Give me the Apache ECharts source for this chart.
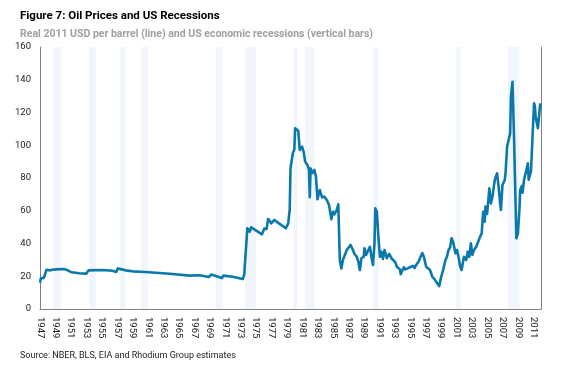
<!DOCTYPE html>
<html><head><meta charset="utf-8">
<script src="https://cdn.jsdelivr.net/npm/echarts@6/dist/echarts.min.js"></script>
<style>html,body{margin:0;padding:0;background:#fff}#c{width:563px;height:367px}</style>
</head><body><div id="c"></div>
<script>
// Oil price, real 2011 USD per barrel (decimal year, value)
var years = [1947.0,1947.1,1947.3,1947.5,1947.7,1947.85,1948.2,1948.6,1949.1,1950.1,1950.6,1951.1,1952.1,1953.0,1953.3,1955.1,1956.4,1956.9,1957.1,1957.6,1958.1,1959.0,1960.6,1962.5,1964.2,1966.4,1967.7,1968.9,1969.2,1969.8,1970.6,1970.8,1972.0,1973.3,1973.5,1973.7,1973.9,1974.2,1974.4,1975.0,1975.8,1976.1,1976.4,1976.6,1977.0,1977.4,1978.0,1978.9,1979.2,1979.4,1979.5,1979.8,1980.0,1980.1,1980.3,1980.5,1980.7,1981.0,1981.2,1981.4,1981.7,1981.9,1982.0,1982.1,1982.3,1982.6,1982.8,1983.0,1983.3,1983.6,1983.9,1984.2,1984.5,1984.6,1984.8,1985.0,1985.2,1985.5,1985.7,1985.9,1986.1,1986.3,1986.5,1986.8,1987.0,1987.3,1987.6,1987.8,1988.1,1988.3,1988.5,1988.7,1989.0,1989.1,1989.3,1989.5,1989.8,1990.0,1990.2,1990.4,1990.5,1990.7,1990.9,1991.1,1991.3,1991.5,1991.7,1992.0,1992.3,1992.6,1992.8,1993.1,1993.3,1993.7,1993.8,1994.2,1994.4,1994.7,1995.0,1995.1,1995.4,1995.6,1995.8,1996.1,1996.3,1996.6,1996.8,1997.1,1997.3,1997.6,1997.9,1998.2,1998.4,1998.6,1998.8,1999.0,1999.3,1999.6,1999.8,2000.0,2000.2,2000.4,2000.6,2000.9,2001.1,2001.3,2001.5,2001.7,2002.0,2002.3,2002.5,2002.7,2002.9,2003.1,2003.3,2003.6,2003.8,2004.1,2004.3,2004.5,2004.7,2004.8,2005.0,2005.3,2005.5,2005.7,2006.0,2006.1,2006.3,2006.5,2006.7,2006.8,2007.0,2007.3,2007.4,2007.6,2007.8,2008.0,2008.1,2008.3,2008.4,2008.5,2008.7,2008.8,2009.0,2009.2,2009.3,2009.5,2009.6,2009.8,2010.0,2010.3,2010.4,2010.5,2010.7,2010.9,2011.1,2011.2,2011.3,2011.4,2011.6,2011.8,2011.9];
var prices = [16.0,18.7,18.0,19.0,18.5,24.0,23.6,24.0,24.2,24.4,23.6,22.4,21.8,21.6,23.6,23.8,23.4,22.6,24.8,24.2,23.6,23.0,22.6,22.0,21.4,20.4,20.6,19.5,21.0,20.2,18.9,20.4,19.7,18.3,21.2,21.4,49.3,47.2,49.9,48.0,45.6,49.1,48.9,55.0,52.3,54.4,52.3,49.3,52.3,60.5,85.9,95.1,97.5,110.4,111.3,108.9,97.1,99.1,96.1,90.0,87.9,84.9,68.2,85.9,82.9,84.9,80.8,67.0,72.7,68.2,68.6,66.6,63.5,62.5,54.8,59.4,57.8,60.5,63.9,29.9,24.8,29.9,28.9,36.0,37.1,39.1,36.0,33.6,31.9,28.9,23.8,31.0,31.9,37.1,33.0,34.0,38.0,31.9,26.9,40.1,61.5,59.5,44.2,31.9,35.0,30.6,36.0,31.0,33.6,31.0,29.9,28.5,25.8,24.2,21.2,25.5,24.2,24.8,25.5,24.4,26.3,25.0,26.9,28.9,29.9,34.2,31.9,25.8,26.9,23.8,19.7,18.1,16.7,17.0,14.0,18.7,23.8,29.9,31.9,36.0,37.5,43.2,41.0,34.0,36.0,31.9,26.3,23.8,31.9,30.0,35.0,31.9,40.1,33.0,36.0,38.0,37.0,44.2,46.0,59.4,53.3,62.5,58.0,73.7,64.5,68.6,78.8,79.8,82.9,74.7,64.5,60.5,75.7,78.8,83.0,99.1,100.0,107.3,129.7,138.8,138.0,105.2,64.5,43.2,46.0,60.5,72.7,75.0,71.0,78.8,78.0,89.0,79.0,80.0,84.0,105.2,125.6,124.0,117.4,118.0,110.4,109.7,125.6];
// US recessions (start, end) in decimal years as drawn
var recStart = [1948.7,1953.4,1957.35,1960.1,1969.8,1973.6,1979.9,1981.4,1990.2,2001.0,2007.7];
var recEnd   = [1949.7,1954.25,1958.1,1961.0,1970.7,1975.0,1980.4,1982.6,1990.9,2001.6,2009.2];
var yTicks = [0,20,40,60,80,100,120,140,160];
var xMin = 1947, xMax = 2012;

var FONT = "Roboto,'Liberation Sans',sans-serif";
var lineData = years.map(function(y,i){return [y, prices[i]];});
var areas = recStart.map(function(s,i){return [{xAxis:s},{xAxis:recEnd[i]}];});

var chart = echarts.init(document.getElementById('c'));
chart.setOption({
  animation:false,
  title:[
    {text:'Figure 7: Oil Prices and US Recessions', left:15, top:5,
     textStyle:{fontFamily:FONT, fontWeight:'bold', fontSize:11.5, color:'#000'}},
    {text:'Real 2011 USD per barrel (line) and US economic recessions (vertical bars)', left:15, top:24,
     textStyle:{fontFamily:FONT, fontWeight:'bold', fontSize:10.5, color:'#a0a0a0'}},
    {text:'Source: NBER, BLS, EIA and Rhodium Group estimates', left:15, top:346,
     textStyle:{fontFamily:FONT, fontWeight:'normal', fontSize:9, color:'#222'}}
  ],
  grid:{left:40, right:22, top:47, bottom:58},
  xAxis:{type:'value', min:xMin, max:xMax, interval:1,
    axisLine:{show:true, lineStyle:{color:'#808080', width:1}},
    axisTick:{show:false}, splitLine:{show:false},
    axisLabel:{rotate:-90, margin:8, fontFamily:FONT, fontSize:9.5, color:'#222',
      formatter:function(v){return ((v-xMin)%2===0 && v<xMax) ? String(v) : '';}}
  },
  yAxis:[
    {type:'value', min:yTicks[0], max:yTicks[yTicks.length-1], interval:20,
     axisLine:{show:true, lineStyle:{color:'#808080', width:1}},
     axisTick:{show:false}, splitLine:{show:false},
     axisLabel:{margin:9, fontFamily:FONT, fontSize:9.5, color:'#222'}},
    {type:'value', position:'right', min:0, max:160, interval:20,
     axisLine:{show:true, lineStyle:{color:'#808080', width:1}},
     axisTick:{show:false}, splitLine:{show:false}, axisLabel:{show:false}}
  ],
  series:[{
    type:'line', data:lineData, showSymbol:false, symbol:'none',
    lineStyle:{color:'#0a78ab', width:2.6, join:'round'},
    markArea:{silent:true, itemStyle:{color:'#f0f6fc'}, data:areas}
  }]
});
</script></body></html>
